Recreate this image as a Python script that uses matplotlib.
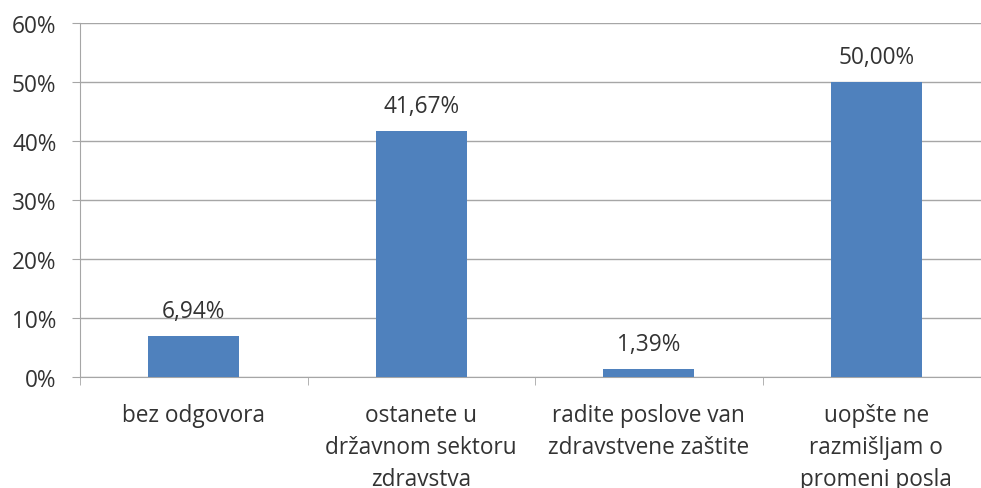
import matplotlib.pyplot as plt
from matplotlib.ticker import PercentFormatter

categories = ["bez odgovora",
              "ostanete u\ndržavnom sektoru\nzdravstva",
              "radite poslove van\nzdravstvene zaštite",
              "uopšte ne\nrazmišljam o\npromeni posla"]
values = [6.94, 41.67, 1.39, 50.00]
value_labels = ["6,94%", "41,67%", "1,39%", "50,00%"]

plt.rcParams['font.family'] = ['Open Sans', 'DejaVu Sans']
txt = "#333333"
line_col = "#A6A6A6"

fig = plt.figure(figsize=(9.81, 4.89), dpi=100)
# right edge goes beyond the figure: the original is cropped there
ax = fig.add_axes([80 / 981, 1 - 378 / 489, 910 / 981, 354 / 489])

x = range(len(categories))
ax.bar(x, values, width=0.4, color="#4F81BD", zorder=3)
for xi, v, lab in zip(x, values, value_labels):
    ax.text(xi, v + 3.2, lab, ha="center", va="baseline", fontsize=16.3, color=txt)

ax.set_xlim(-0.5, len(categories) - 0.5)
ax.set_ylim(0, 60)
ax.set_yticks(range(0, 61, 10))
ax.yaxis.set_major_formatter(PercentFormatter(decimals=0))
ax.grid(axis="y", color=line_col, linewidth=1, zorder=0)

ax.set_xticks(x)
ax.set_xticklabels(categories, fontsize=16.3, color=txt, linespacing=1.42, va="top")
ax.set_xticks([i - 0.5 for i in range(len(categories) + 1)], minor=True)
ax.tick_params(axis="x", which="major", length=0, pad=19)
ax.tick_params(axis="x", which="minor", length=6, color=line_col)
ax.tick_params(axis="y", length=6, color=line_col, labelsize=16.3, labelcolor=txt, pad=11)

for side in ["top", "right"]:
    ax.spines[side].set_visible(False)
for side in ["left", "bottom"]:
    ax.spines[side].set_color(line_col)

fig.savefig("out.png", dpi=100)
